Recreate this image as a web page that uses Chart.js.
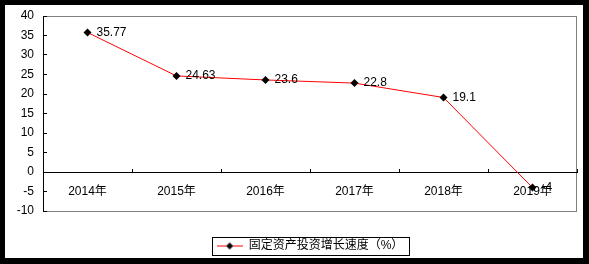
<!DOCTYPE html>
<html>
<head>
<meta charset="utf-8">
<script src="https://cdn.jsdelivr.net/npm/chart.js@4/dist/chart.umd.min.js"></script>
<style>
  html, body { margin: 0; padding: 0; background: #000; }
  #frame { position: absolute; left: 5px; top: 5px; width: 578px; height: 253px; overflow: hidden; background: #fff; }
  #box { position: relative; width: 578px; height: 257px; }
</style>
</head>
<body>
<div id="frame"><div id="box"><canvas id="growthChart"></canvas></div></div>
<script>
"use strict";

const years = ["2014年", "2015年", "2016年", "2017年", "2018年", "2019年"];
const growth = [35.77, 24.63, 23.6, 22.8, 19.1, -4];
const seriesName = "固定资产投资增长速度（%）";
const yMin = -10;
const yMax = 40;
const yStep = 5;

const font = { family: "'Liberation Sans', 'Noto Sans CJK SC', sans-serif", size: 12 };
Chart.defaults.font = font;
Chart.defaults.color = "#000";

// legend symbol: red line with a black diamond
const legendMark = document.createElement("canvas");
legendMark.width = 26;
legendMark.height = 9;
(function () {
  const c = legendMark.getContext("2d");
  c.strokeStyle = "#ff0000";
  c.lineWidth = 1;
  c.beginPath();
  c.moveTo(0, 4.5);
  c.lineTo(26, 4.5);
  c.stroke();
  c.fillStyle = "#000";
  c.beginPath();
  c.moveTo(13, 1);
  c.lineTo(16.5, 4.5);
  c.lineTo(13, 8);
  c.lineTo(9.5, 4.5);
  c.closePath();
  c.fill();
})();

const plotFrame = {
  id: "plotFrame",
  beforeDraw(chart) {
    const a = chart.chartArea;
    const ctx = chart.ctx;
    ctx.save();
    ctx.strokeStyle = "#808080";
    ctx.lineWidth = 1;
    ctx.strokeRect(Math.round(a.left) + 0.5, Math.round(a.top) + 0.5,
      Math.round(a.right - a.left) - 1, Math.round(a.bottom - a.top));
    ctx.restore();
  },
  afterDraw(chart) {
    // border round the legend
    const hb = chart.legend.legendHitBoxes[0];
    if (!hb) return;
    const ctx = chart.ctx;
    ctx.save();
    ctx.strokeStyle = "#000";
    ctx.lineWidth = 1;
    ctx.strokeRect(Math.round(hb.left - 5) + 0.5, Math.round(hb.top - 3) + 0.5,
      Math.round(hb.width + 10), Math.round(hb.height + 6));
    ctx.restore();
  },
};

const valueLabels = {
  id: "valueLabels",
  afterDatasetsDraw(chart) {
    const ctx = chart.ctx;
    const meta = chart.getDatasetMeta(0);
    ctx.save();
    ctx.font = "12px " + font.family;
    ctx.fillStyle = "#000";
    ctx.textAlign = "left";
    ctx.textBaseline = "middle";
    meta.data.forEach((pt, i) => {
      ctx.fillText(String(growth[i]), pt.x + 9, pt.y);
    });
    ctx.restore();
  },
};

new Chart(document.getElementById("growthChart"), {
  type: "line",
  data: {
    labels: years,
    datasets: [
      {
        label: seriesName,
        data: growth,
        borderColor: "#ff0000",
        borderWidth: 1,
        pointStyle: "rectRot",
        pointRadius: 4,
        pointBackgroundColor: "#000",
        pointBorderColor: "#000",
        pointBorderWidth: 0,
        tension: 0,
        fill: false,
      },
    ],
  },
  options: {
    responsive: true,
    maintainAspectRatio: false,
    animation: false,
    layout: { padding: { top: 11, right: 6, left: 0, bottom: 0 } },
    plugins: {
      tooltip: { enabled: false },
      legend: {
        position: "bottom",
        fullSize: false,
        labels: {
          usePointStyle: true,
          pointStyle: legendMark,
          pointStyleWidth: 26,
          padding: 29,
          color: "#000",
          font: font,
        },
      },
    },
    scales: {
      x: {
        type: "category",
        axis: "x",
        position: { y: 0 },
        offset: true,
        grid: { offset: true, drawOnChartArea: false, tickLength: -4, color: "#000" },
        border: { color: "#000" },
        ticks: { padding: 16, color: "#000", maxRotation: 0 },
      },
      y: {
        min: yMin,
        max: yMax,
        afterFit(s) {
          s.width = 38;
          s.paddingTop = 0;
          s.paddingBottom = 0;
        },
        grid: { drawOnChartArea: false, tickLength: -4, color: "#000" },
        border: { color: "#000" },
        ticks: { stepSize: yStep, padding: 13, color: "#000" },
      },
    },
  },
  plugins: [plotFrame, valueLabels],
});
</script>
</body>
</html>
